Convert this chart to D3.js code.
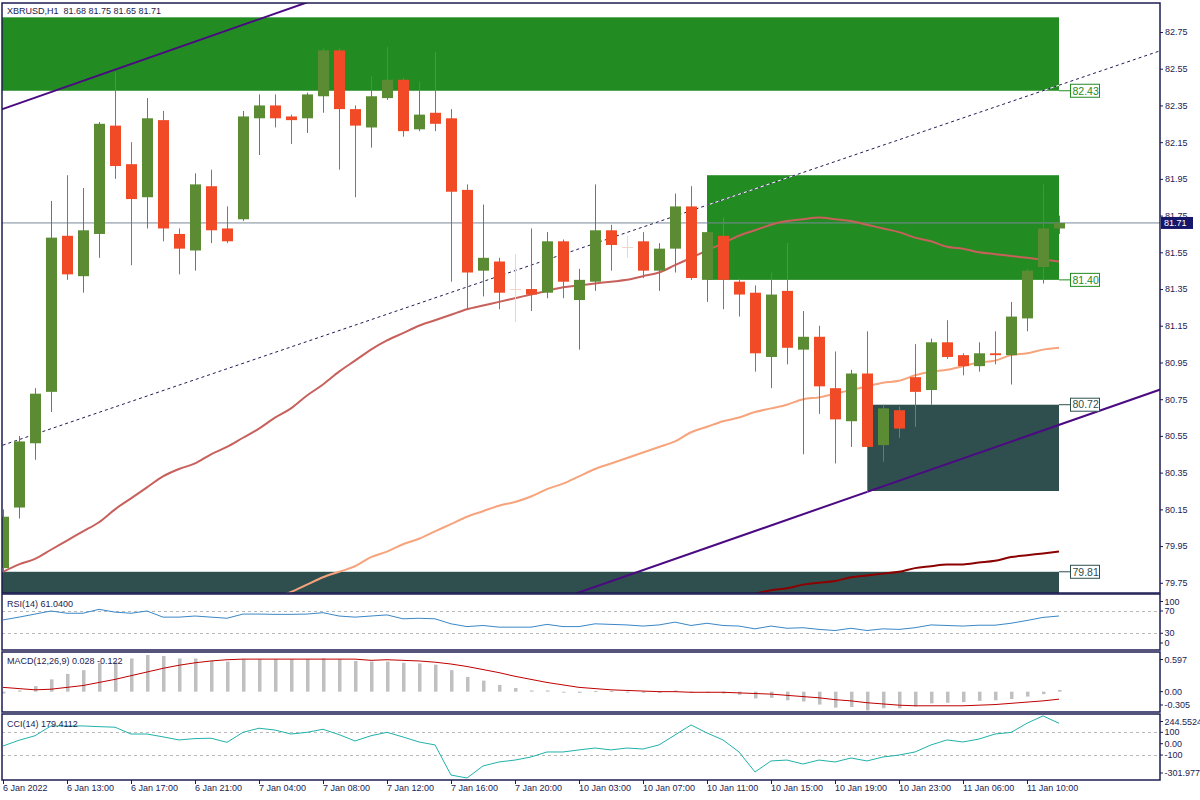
<!DOCTYPE html>
<html><head><meta charset="utf-8">
<script src="https://cdn.jsdelivr.net/npm/d3@7"></script>
<style>
body{margin:0;background:#fff;}
svg{display:block;}
text{font-family:"Liberation Sans",Arial,sans-serif;}
</style>
</head><body>
<svg id="c" width="1200" height="800"></svg>
<script>
// ---------------- DATA ----------------
const headerText = "XBRUSD,H1  81.68 81.75 81.65 81.71";
const open = [79.83,80.16,80.51,80.79,81.64,81.42,81.65,82.24,82.03,81.85,
  82.27,81.65,81.56,81.91,81.68,81.73,82.28,82.35,82.29,82.28,
  82.40,82.65,82.33,82.23,82.39,82.49,82.22,82.31,82.28,81.89,
  81.45,81.50,81.35,81.35,81.33,81.61,81.29,81.39,81.67,81.58,
  81.61,81.45,81.57,81.80,81.40,81.64,81.39,81.33,80.98,81.34,
  81.02,81.09,80.81,80.63,80.89,80.50,80.69,80.87,80.80,81.06,
  80.99,80.93,81.00,80.99,81.19,81.47,81.68];
const high = [80.15,80.55,80.81,81.83,81.97,81.90,82.26,82.53,82.15,82.39,
  82.32,81.68,81.98,82.00,81.80,82.32,82.41,82.41,82.30,82.42,
  82.66,82.66,82.35,82.51,82.67,82.50,82.48,82.64,82.33,81.92,
  81.81,81.52,81.54,81.68,81.66,81.62,81.46,81.92,81.70,81.64,
  81.66,81.60,81.87,81.91,81.72,81.74,81.41,81.37,81.44,81.60,
  81.23,81.15,81.01,80.91,81.12,80.72,80.71,81.05,81.08,81.18,
  81.00,81.06,81.12,81.28,81.46,81.92,81.75];
const low = [79.81,80.10,80.42,80.68,81.40,81.33,81.52,81.95,81.48,81.68,
  81.61,81.43,81.45,81.60,81.60,81.72,82.08,82.23,82.14,82.20,
  82.31,82.00,81.85,82.12,82.38,82.18,82.21,82.21,81.39,81.24,
  81.31,81.24,81.17,81.23,81.30,81.30,81.02,81.34,81.45,81.52,
  81.41,81.34,81.44,81.40,81.28,81.24,81.20,80.90,80.81,80.94,
  80.45,80.67,80.40,80.49,80.24,80.41,80.54,80.60,80.72,80.97,
  80.88,80.90,80.94,80.83,81.12,81.38,81.65];
const close = [80.11,80.52,80.78,81.63,81.43,81.67,82.25,82.02,81.84,82.28,
  81.68,81.57,81.92,81.67,81.61,82.29,82.35,82.28,82.27,82.41,
  82.65,82.33,82.24,82.40,82.49,82.21,82.30,82.25,81.88,81.44,
  81.52,81.33,81.35,81.32,81.61,81.39,81.40,81.67,81.59,81.58,
  81.45,81.57,81.80,81.41,81.66,81.40,81.32,81.00,81.32,81.03,
  81.09,80.82,80.64,80.89,80.49,80.70,80.59,80.79,81.06,80.98,
  80.93,81.00,80.99,81.20,81.45,81.68,81.71];

const ma50 = [79.81,79.85,79.88,79.93,79.98,80.03,80.08,80.15,80.21,80.27,
  80.33,80.37,80.40,80.45,80.49,80.54,80.59,80.65,80.70,80.77,
  80.83,80.90,80.96,81.02,81.07,81.11,81.15,81.18,81.21,81.24,
  81.26,81.28,81.30,81.32,81.34,81.36,81.37,81.38,81.39,81.40,
  81.42,81.44,81.48,81.52,81.56,81.60,81.64,81.67,81.70,81.72,
  81.73,81.74,81.73,81.72,81.70,81.68,81.66,81.63,81.61,81.58,
  81.57,81.55,81.54,81.53,81.52,81.51,81.50];
const ma100 = [null,null,null,null,null,null,null,null,null,null,
  null,null,null,null,null,null,79.63,79.67,79.70,79.74,
  79.78,79.81,79.84,79.89,79.92,79.96,79.99,80.03,80.07,80.11,
  80.14,80.17,80.19,80.22,80.26,80.29,80.33,80.37,80.40,80.43,
  80.46,80.49,80.52,80.57,80.60,80.63,80.65,80.68,80.70,80.72,
  80.75,80.76,80.78,80.80,80.82,80.84,80.85,80.88,80.90,80.91,
  80.93,80.95,80.96,80.99,81.00,81.02,81.03];
const ma200 = [null,null,null,null,null,null,null,null,null,null,
  null,null,null,null,null,null,null,null,null,null,
  null,null,null,null,null,null,null,null,null,null,
  null,null,null,null,null,null,null,null,null,null,
  null,null,null,null,null,79.66,79.67,79.69,79.71,79.72,
  79.74,79.75,79.76,79.78,79.79,79.80,79.81,79.83,79.84,79.85,
  79.85,79.86,79.87,79.89,79.90,79.91,79.92];

const rsi = [54,59,64.5,70,66,66,73,68,66,70,
  59,59,61,59,57,64.5,64.5,64,64,64.5,
  67,61,59,61,63,56,57,56,47,42,
  44,41,41,41,46,42,42,47,46,45,
  43,45,50,44,48,44,43,38,43,39,
  40,37,35,39,35,38,37,40,45,44,
  43,44.5,44.5,48,53,58.5,61.04];
const macdMain = [-0.03,0.02,0.09,0.20,0.29,0.35,0.47,0.49,0.54,0.597,
  0.58,0.54,0.54,0.50,0.49,0.53,0.53,0.53,0.53,0.53,
  0.54,0.53,0.50,0.49,0.49,0.47,0.46,0.44,0.35,0.24,
  0.18,0.11,0.06,0.02,0.02,-0.01,-0.02,0.01,0.01,0.00,
  -0.02,-0.02,0.02,-0.02,0.00,-0.03,-0.05,-0.11,-0.10,-0.14,
  -0.16,-0.21,-0.26,-0.25,-0.305,-0.27,-0.27,-0.24,-0.19,-0.18,
  -0.17,-0.15,-0.14,-0.12,-0.08,-0.04,0.028];
const macdSignal = [0.07,0.05,0.03,0.04,0.07,0.10,0.15,0.20,0.26,0.32,
  0.38,0.43,0.47,0.50,0.52,0.53,0.53,0.53,0.53,0.53,
  0.53,0.53,0.53,0.51,0.52,0.51,0.50,0.48,0.45,0.41,
  0.36,0.31,0.25,0.20,0.15,0.11,0.07,0.05,0.03,0.02,
  0.01,0.00,0.00,-0.01,-0.01,-0.01,-0.02,-0.03,-0.04,-0.06,
  -0.08,-0.10,-0.13,-0.15,-0.18,-0.20,-0.22,-0.23,-0.23,-0.23,
  -0.23,-0.22,-0.21,-0.19,-0.17,-0.15,-0.122];
const cci = [-20,30,70,156,156,156,150,145,85,85,
  60,33,45,48,12,100,136,120,85,100,
  127,80,24,70,100,59,15,-11,-276,-301.977,
  -196,-161,-144,-117,-73,-73,-55,-38,-55,-38,
  -47,-11,77,165,94,33,-73,-249,-152,-144,
  -179,-144,-161,-126,-152,-117,-100,-73,-11,33,
  15,41,85,99,180,244.5524,179.4112];

const priceTicks = [79.75,79.95,80.15,80.35,80.55,80.75,80.95,81.15,81.35,81.55,81.75,81.95,82.15,82.35,82.55,82.75];
const xLabelBars = [0,4,8,12,16,20,24,28,32,36,40,44,48,52,56,60,64];
const xLabels = ["6 Jan 2022","6 Jan 13:00","6 Jan 17:00","6 Jan 21:00","7 Jan 04:00","7 Jan 08:00","7 Jan 12:00","7 Jan 16:00","7 Jan 20:00","10 Jan 03:00","10 Jan 07:00","10 Jan 11:00","10 Jan 15:00","10 Jan 19:00","10 Jan 23:00","11 Jan 06:00","11 Jan 10:00"];

// zones (supply = green, demand = slate)
const zoneStart = [-10,44,54,-10];
const zoneEnd = [66,66,66,66];
const zoneHigh = [82.83,81.97,80.72,79.81];
const zoneLow = [82.43,81.40,80.25,79.40];
const zoneLabel = [82.43,81.40,80.72,79.81];
const zoneKind = ["supply","supply","demand","demand"];

// trend channel anchors [bar, price]
const channelUpper = [[7,82.545],[17,82.85]];
const channelLower = [[54,80.245],[66,80.61]];
const channelMid = [[0,80.50],[66,82.46]];
const bidPrice = 81.71;

const rsiLevels = [100,70,30,0];
const rsiLevelText = ["100","70","30","0"];
const macdLevels = [0.597,0,-0.305];
const macdLevelText = ["0.597","0.00","-0.305"];
const cciLevels = [244.5524,100,0,-100,-301.977];
const cciLevelText = ["244.5524","100","0.00","-100","-301.977"];
const rsiTitle = "RSI(14) 61.0400";
const macdTitle = "MACD(12,26,9) 0.028 -0.122";
const cciTitle = "CCI(14) 179.4112";

// ---------------- DRAW ----------------
const svg = d3.select("#c");
const AX = "#1c1c52";
const L = 2, R = 1160;
const P = {
  main:{top:3,bottom:593},
  rsi:{top:594,bottom:650},
  macd:{top:652,bottom:712},
  cci:{top:714,bottom:780}
};
const n = open.length;
const x = d3.scaleLinear().domain([0,n-1]).range([3,3+16*(n-1)]);
const y = d3.scaleLinear().domain([79.75,82.75]).range([582.8,32]);
const yR = d3.scaleLinear().domain([0,100]).range([650,594.3]);
const yM = d3.scaleLinear().domain([-0.305,0.597]).range([710.4,655]);
const yC = d3.scaleLinear().domain([-301.977,244.5524]).range([778,715.9]);

const defs = svg.append("defs");
Object.entries(P).forEach(([k,p])=>{
  defs.append("clipPath").attr("id","clip-"+k).append("rect")
    .attr("x",L).attr("y",p.top).attr("width",R-L).attr("height",p.bottom-p.top);
});

// main panel
const gm = svg.append("g").attr("clip-path","url(#clip-main)");
const zoneColor = {supply:"#228b22", demand:"#2f4f4f"};
zoneKind.forEach((k,i)=>{
  gm.append("rect")
    .attr("x",x(zoneStart[i])).attr("y",y(zoneHigh[i]))
    .attr("width",x(zoneEnd[i])-x(zoneStart[i]))
    .attr("height",y(zoneLow[i])-y(zoneHigh[i]))
    .attr("fill",zoneColor[k]);
});

// bid line
gm.append("line").attr("x1",L).attr("x2",R).attr("y1",y(bidPrice)).attr("y2",y(bidPrice))
  .attr("stroke","#7a8899").attr("stroke-width",1);

function extLine(pts){
  const [a,b]=pts; const s=(b[1]-a[1])/(b[0]-a[0]);
  const b0=x.invert(L-5), b1=x.invert(R+5);
  return [[b0,a[1]+s*(b0-a[0])],[b1,a[1]+s*(b1-a[0])]];
}
const lineGen = d3.line().x(d=>x(d[0])).y(d=>y(d[1]));
gm.append("path").attr("d",lineGen(extLine(channelMid))).attr("stroke","#fff").attr("stroke-width",1).attr("fill","none");
gm.append("path").attr("d",lineGen(extLine(channelMid))).attr("stroke","#241a55").attr("stroke-width",1).attr("stroke-dasharray","3,3").attr("fill","none");
[channelUpper,channelLower].forEach(c=>{
  gm.append("path").attr("d",lineGen(extLine(c))).attr("stroke","#4b0a82").attr("stroke-width",2).attr("fill","none");
});

// moving averages
const maLine = d3.line().defined(d=>d[1]!=null).x(d=>x(d[0])).y(d=>y(d[1])).curve(d3.curveMonotoneX);
[[ma200,"#8b0000"],[ma100,"#f7a47c"],[ma50,"#c8605c"]].forEach(([arr,col])=>{
  gm.append("path").attr("d",maLine(arr.map((v,i)=>[i,v]))).attr("stroke",col).attr("stroke-width",2).attr("fill","none");
});

// candles
const cg = gm.append("g");
for(let i=0;i<n;i++){
  const o=open[i],c=close[i],h=high[i],l=low[i];
  const col = c>o ? "#5b8c34" : (c<o ? "#f04b26" : "#f1d4c8");
  const cx = Math.round(x(i));
  cg.append("line").attr("x1",cx+0.5).attr("x2",cx+0.5).attr("y1",y(h)).attr("y2",y(l)).attr("stroke",col).attr("stroke-width",1);
  const top=y(Math.max(o,c)), bot=y(Math.min(o,c));
  if(c===o){
    cg.append("line").attr("x1",cx-5).attr("x2",cx+6).attr("y1",Math.round(top)+0.5).attr("y2",Math.round(top)+0.5).attr("stroke",col);
  } else {
    cg.append("rect").attr("x",cx-5).attr("y",top).attr("width",11).attr("height",Math.max(1.5,bot-top)).attr("fill",col);
  }
}

// zone labels
zoneKind.forEach((k,i)=>{
  const yy=y(zoneLabel[i]); const col=zoneColor[k];
  svg.append("line").attr("x1",x(zoneEnd[i])).attr("x2",1070).attr("y1",yy).attr("y2",yy).attr("stroke",col);
  svg.append("rect").attr("x",1070.5).attr("y",yy-6.5).attr("width",29).attr("height",13).attr("fill","#fff").attr("stroke",col);
  svg.append("text").attr("x",1072.5).attr("y",yy).attr("dy","0.36em").attr("font-size","10.5px").attr("fill",col).text(zoneLabel[i].toFixed(2));
});

// header
svg.append("text").attr("x",7).attr("y",11).attr("dy","0.35em").attr("font-size","9px").attr("fill",AX).attr("xml:space","preserve").style("white-space","pre").text(headerText);

// price axis
const ya = svg.append("g").attr("transform",`translate(${R},0)`)
  .call(d3.axisRight(y).tickValues(priceTicks).tickFormat(d3.format(".2f")).tickSize(3).tickPadding(2));
ya.select(".domain").remove();
ya.selectAll("line").attr("stroke",AX);
ya.selectAll("text").attr("fill",AX).attr("font-size","9px").attr("font-family","Liberation Sans, Arial, sans-serif");

// bid label
svg.append("rect").attr("x",1161).attr("y",y(bidPrice)-6).attr("width",32).attr("height",12).attr("fill","#16166a");
svg.append("text").attr("x",1164).attr("y",y(bidPrice)).attr("dy","0.36em").attr("font-size","9px").attr("fill","#fff").text(bidPrice.toFixed(2));

// indicator panels
function levelLabels(scale,p,levels,texts){
  levels.forEach((v,i)=>{
    const yy = Math.max(p.top+7.5, Math.min(p.bottom-7, scale(v)));
    svg.append("line").attr("x1",R).attr("x2",R+3).attr("y1",yy).attr("y2",yy).attr("stroke",AX);
    svg.append("text").attr("x",R+4.5).attr("y",yy).attr("dy","0.35em").attr("font-size","9px").attr("fill",AX).text(texts[i]);
  });
}
function dashed(g,scale,v){
  g.append("line").attr("x1",L).attr("x2",R).attr("y1",Math.round(scale(v))+0.5).attr("y2",Math.round(scale(v))+0.5)
   .attr("stroke","#b8b8b8").attr("stroke-dasharray","3,3");
}
// RSI
const gr = svg.append("g").attr("clip-path","url(#clip-rsi)");
dashed(gr,yR,70); dashed(gr,yR,30);
gr.append("path").attr("d",d3.line().x((d,i)=>x(i)).y(d=>yR(d))(rsi)).attr("stroke","#3a87c6").attr("stroke-width",1).attr("fill","none");
levelLabels(yR,P.rsi,rsiLevels,rsiLevelText);
// MACD
const gmc = svg.append("g").attr("clip-path","url(#clip-macd)");
macdMain.forEach((v,i)=>{
  const a=yM(0), b=yM(v);
  gmc.append("rect").attr("x",Math.round(x(i))-1).attr("y",Math.min(a,b)).attr("width",3.5).attr("height",Math.max(1,Math.abs(b-a))).attr("fill","#c0c0c0");
});
gmc.append("path").attr("d",d3.line().x((d,i)=>x(i)).y(d=>yM(d))(macdSignal)).attr("stroke","#c00000").attr("stroke-width",1).attr("fill","none");
levelLabels(yM,P.macd,macdLevels,macdLevelText);
// CCI
const gc = svg.append("g").attr("clip-path","url(#clip-cci)");
dashed(gc,yC,100); dashed(gc,yC,-100);
gc.append("path").attr("d",d3.line().x((d,i)=>x(i)).y(d=>yC(d))(cci)).attr("stroke","#20b2aa").attr("stroke-width",1).attr("fill","none");
levelLabels(yC,P.cci,cciLevels,cciLevelText);

// titles
[[rsiTitle,604],[macdTitle,660.5],[cciTitle,723.7]].forEach(([t,yy])=>{
  svg.append("text").attr("x",7).attr("y",yy).attr("dy","0.35em").attr("font-size","9px").attr("fill",AX).text(t);
});

// panel frames
Object.values(P).forEach(p=>{
  svg.append("rect").attr("x",L).attr("y",p.top).attr("width",R-L).attr("height",p.bottom-p.top)
    .attr("fill","none").attr("stroke",AX).attr("stroke-width",1.5);
});

// time axis
const xa = svg.append("g").attr("transform",`translate(0,${P.cci.bottom})`)
  .call(d3.axisBottom(x).tickValues(xLabelBars).tickFormat((d,i)=>xLabels[i]).tickSize(4).tickPadding(1));
xa.select(".domain").remove();
xa.selectAll("line").attr("stroke",AX);
xa.selectAll("text").attr("fill",AX).attr("font-size","9px").attr("text-anchor","start").attr("x",-0.5)
  .attr("font-family","Liberation Sans, Arial, sans-serif");
</script>
</body></html>
